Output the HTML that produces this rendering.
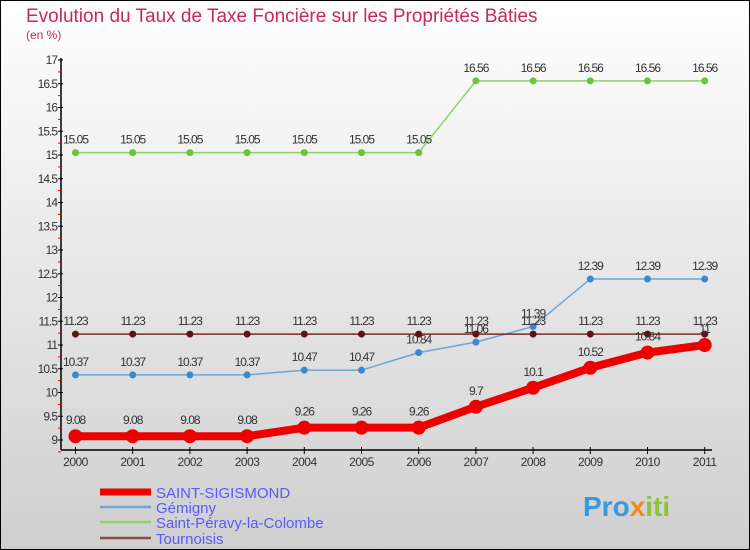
<!DOCTYPE html>
<html><head><meta charset="utf-8"><style>
body{margin:0}
#c{width:750px;height:550px;position:relative;overflow:hidden;font-family:"Liberation Sans",sans-serif}
svg text{font-family:"Liberation Sans",sans-serif}
</style></head><body>
<div id="c">
<svg id="s" width="750" height="550" xmlns="http://www.w3.org/2000/svg">
<defs><linearGradient id="bg" x1="0" y1="0" x2="0" y2="1"><stop offset="0" stop-color="#ffffff"/><stop offset="1" stop-color="#cfcfcf"/></linearGradient></defs>
<rect x="0.5" y="0.5" width="749" height="549" fill="url(#bg)" stroke="#000"/>
<text x="26" y="22" font-size="19" fill="#c8285a">Evolution du Taux de Taxe Foncière sur les Propriétés Bâties</text>
<text x="26" y="39" font-size="12" fill="#c8285a">(en %)</text>
<g id="axes"></g><g id="series"></g><g id="legend"></g>
<text x="583" y="516" font-size="28" font-weight="bold" fill="#3a9ad9">Pro<tspan fill="#f08a1c">x</tspan><tspan fill="#8ac43f">iti</tspan></text>
</svg></div>
<script>
const years=[2000,2001,2002,2003,2004,2005,2006,2007,2008,2009,2010,2011];
const yTicks=[9,9.5,10,10.5,11,11.5,12,12.5,13,13.5,14,14.5,15,15.5,16,16.5,17];
const sSaint=[9.08,9.08,9.08,9.08,9.26,9.26,9.26,9.7,10.1,10.52,10.84,11];
const sGemigny=[10.37,10.37,10.37,10.37,10.47,10.47,10.84,11.06,11.39,12.39,12.39,12.39];
const sPeravy=[15.05,15.05,15.05,15.05,15.05,15.05,15.05,16.56,16.56,16.56,16.56,16.56];
const sTourn=[11.23,11.23,11.23,11.23,11.23,11.23,11.23,11.23,11.23,11.23,11.23,11.23];
const names=["SAINT-SIGISMOND","Gémigny","Saint-Péravy-la-Colombe","Tournoisis"];
const NS="http://www.w3.org/2000/svg";
const X=i=>75.5+i*57.2, Y=v=>440-(v-9)*47.5;
function mk(t,a,p){const e=document.createElementNS(NS,t);for(const k in a)e.setAttribute(k,a[k]);p.appendChild(e);return e;}
const ax=document.getElementById('axes');
const yl=mk('line',{x1:61,y1:58,x2:61,y2:450,stroke:'#000','stroke-width':1.5},ax);


const xl=mk('line',{x1:61,y1:450,x2:712,y2:450,stroke:'#000','stroke-width':1.5},ax);


yTicks.forEach(v=>{
 mk('line',{x1:58,y1:Y(v),x2:63,y2:Y(v),stroke:'#000'},ax);
 mk('line',{x1:58,y1:Y(v)+11.9,x2:61,y2:Y(v)+11.9,stroke:'#e00'},ax);
 const t=mk('text',{x:57,y:Y(v)+4,'font-size':12,fill:'#333','text-anchor':'end','letter-spacing':'-1'},ax);t.textContent=v;
 
 
});
years.forEach((y,i)=>{
 mk('line',{x1:X(i),y1:447,x2:X(i),y2:454,stroke:'#000'},ax);
 const t=mk('text',{x:X(i),y:466,'font-size':12,fill:'#333','text-anchor':'middle','letter-spacing':'-0.5'},ax);t.textContent=y;
 
 
});
const sg=document.getElementById('series');
const defs=[[sPeravy,'#8fd16a','#6bc43a',1.5,3.5,'series-saint-peravy'],[sGemigny,'#6aa8d6','#3a8ad0',1.5,3.5,'series-gemigny'],[sTourn,'#7a2a2a','#5a1515',1.5,3.5,'series-tournoisis'],[sSaint,'#ee0000','#ee0000',8,7,'series-saint-sigismond']];
defs.forEach(([d,lc,pc,w,r,n])=>{
 const g=mk('g',{},sg);
 
 
 mk('polyline',{points:d.map((v,i)=>X(i)+','+Y(v)).join(' '),fill:'none',stroke:lc,'stroke-width':w,'stroke-linejoin':'round'},g);
 d.forEach((v,i)=>{
  const c=mk('circle',{cx:X(i),cy:Y(v),r:r,fill:pc},g);
  
  
  const t=mk('text',{x:X(i),y:Y(v)-(w>4?12:9),'font-size':12,fill:'#333','text-anchor':'middle','letter-spacing':'-1'},g);t.textContent=v;
  
  
 });
});
const lg=document.getElementById('legend');
const lcol=['#ee0000','#6aa8d6','#8fd16a','#8a4a4a'],lw=[7,2.5,2.5,2.5],ly=[492,507,522,538];
names.forEach((n,i)=>{
 const g=mk('g',{},lg);
 
 
 mk('line',{x1:100,y1:ly[i],x2:151,y2:ly[i],stroke:lcol[i],'stroke-width':lw[i]},g);
 const t=mk('text',{x:156,y:ly[i]+6,'font-size':15,fill:'#5a5aff'},g);t.textContent=n;
});
</script></body></html>
